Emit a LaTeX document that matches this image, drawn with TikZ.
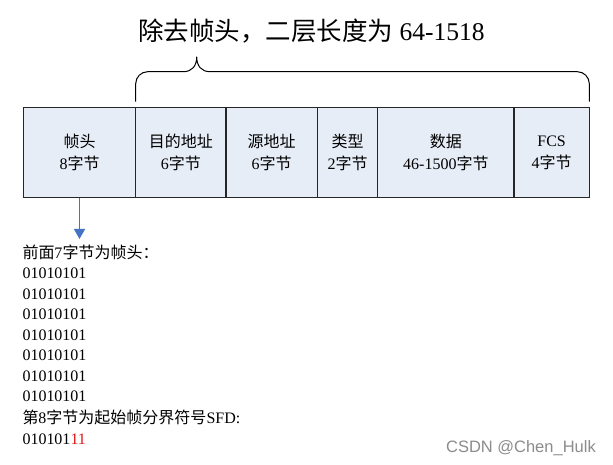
\documentclass[tikz,border=0pt]{standalone}
\usepackage{fontspec}
\setmainfont{Liberation Serif}
\newfontfamily\cjk{Noto Sans CJK SC}
\newfontfamily\wmfont{Liberation Sans}
\usetikzlibrary{arrows.meta}
\newcommand\C[1]{{\cjk #1}}
\definecolor{fieldblue}{RGB}{231,237,247}
\definecolor{arrowblue}{RGB}{68,114,196}
\definecolor{sfdred}{RGB}{230,20,20}
\definecolor{wmgray}{RGB}{140,140,140}
\begin{document}
\begin{tikzpicture}[x=1pt,y=-1pt,
  field/.style={draw=black!85, line width=1.2pt, fill=fieldblue, minimum height=90.2pt,
    inner sep=0pt, align=center, font=\fontsize{16}{22}\selectfont},
  bracepath/.style={draw=black, line width=1pt},
  downarrow/.style={draw=arrowblue, line width=1pt, -{Triangle[width=11pt,length=10pt]}},
  bodytext/.style={anchor=base west, inner sep=0pt, font=\fontsize{16}{20}\selectfont},
  titletext/.style={anchor=base, inner sep=0pt, font=\fontsize{25.5}{30}\selectfont}
]
\useasboundingbox (0,0) rectangle (613,465);
\fill[white] (0,0) rectangle (613,465);

% title
\node[titletext] (title) at (311.5,41) {\C{除去帧头，二层长度为} 64-1518};

% brace
\draw[bracepath] (135.7,101.7) -- (135.7,83.7)
  .. controls (135.7,77.1) and (141.1,71.7) .. (147.7,71.7)
  -- (183.3,71.7)
  .. controls (192,71.7) and (196.7,66) .. (196.7,56.7)
  .. controls (196.7,66) and (201.4,71.7) .. (210,71.7)
  -- (577.3,71.7)
  .. controls (583.9,71.7) and (589.3,77.1) .. (589.3,83.7)
  -- (589.3,101.7);

% fields
\node[field, minimum width=112.4pt] (f1) at (79.5,152.4) {\C{帧头}\\8\C{字节}};
\node[field, minimum width=90.3pt]  (f2) at (180.85,152.4) {\C{目的地址}\\6\C{字节}};
\node[field, minimum width=91.3pt]  (f3) at (271.65,152.4) {\C{源地址}\\6\C{字节}};
\node[field, minimum width=60.4pt]  (f4) at (347.5,152.4) {\C{类型}\\2\C{字节}};
\node[field, minimum width=136.3pt] (f5) at (445.85,152.4) {\C{数据}\\46-1500\C{字节}};
\node[field, minimum width=75.3pt]  (f6) at (551.65,152.4) {FCS\\4\C{字节}};

% arrow
\coordinate (ah) at (79.5,239);
\draw[downarrow] (f1.south) -- (ah);

% lower text
\node[bodytext] (l0) at (22.3,258.5) {\C{前面}7\C{字节为帧头：}};
\node[bodytext] (l1) at (22.3,278.8) {01010101};
\node[bodytext] (l2) at (22.3,299.3) {01010101};
\node[bodytext] (l3) at (22.3,319.8) {01010101};
\node[bodytext] (l4) at (22.3,340.3) {01010101};
\node[bodytext] (l5) at (22.3,360.8) {01010101};
\node[bodytext] (l6) at (22.3,381.3) {01010101};
\node[bodytext] (l7) at (22.3,401.8) {01010101};
\node[bodytext] (l8) at (22.3,423.3) {\C{第}8\C{字节为起始帧分界符号}SFD:};
\node[bodytext] (l9) at (22.3,444.5) {010101\textcolor{sfdred}{11}};

% watermark
\node[anchor=base east, inner sep=0pt, text=wmgray, font=\wmfont\fontsize{16.5}{18}\selectfont] (wm) at (596,452.5) {CSDN @Chen\_Hulk};
\end{tikzpicture}
\end{document}
